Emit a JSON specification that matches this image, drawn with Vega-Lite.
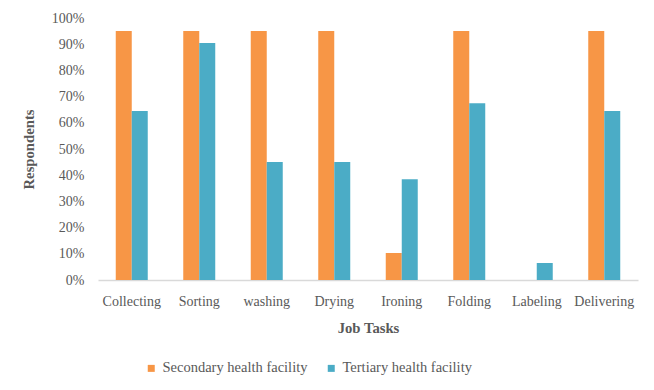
{
  "$schema": "https://vega.github.io/schema/vega-lite/v6.json",
  "width": 540,
  "height": 262,
  "autosize": {"type": "none"},
  "padding": {"left": 98, "top": 18, "right": 16, "bottom": 110},
  "background": "white",
  "config": {
    "view": {"stroke": null},
    "font": "Liberation Serif",
    "axis": {"labelFont": "Liberation Serif", "titleFont": "Liberation Serif", "labelColor": "#595959", "titleColor": "#595959", "labelFontSize": 14, "titleFontSize": 14.7, "grid": false, "ticks": false, "labelOverlap": false},
    "legend": {"labelFont": "Liberation Serif"}
  },
  "data": {
    "values": [
      {"task": "Collecting", "facility": "Secondary health facility", "value": 0.95},
      {"task": "Collecting", "facility": "Tertiary health facility", "value": 0.645},
      {"task": "Sorting", "facility": "Secondary health facility", "value": 0.95},
      {"task": "Sorting", "facility": "Tertiary health facility", "value": 0.905},
      {"task": "washing", "facility": "Secondary health facility", "value": 0.95},
      {"task": "washing", "facility": "Tertiary health facility", "value": 0.45},
      {"task": "Drying", "facility": "Secondary health facility", "value": 0.95},
      {"task": "Drying", "facility": "Tertiary health facility", "value": 0.45},
      {"task": "Ironing", "facility": "Secondary health facility", "value": 0.103},
      {"task": "Ironing", "facility": "Tertiary health facility", "value": 0.385},
      {"task": "Folding", "facility": "Secondary health facility", "value": 0.95},
      {"task": "Folding", "facility": "Tertiary health facility", "value": 0.675},
      {"task": "Labeling", "facility": "Secondary health facility", "value": 0},
      {"task": "Labeling", "facility": "Tertiary health facility", "value": 0.065},
      {"task": "Delivering", "facility": "Secondary health facility", "value": 0.95},
      {"task": "Delivering", "facility": "Tertiary health facility", "value": 0.645}
    ]
  },
  "mark": {"type": "bar"},
  "encoding": {
    "x": {
      "field": "task", "type": "nominal", "sort": null,
      "scale": {"paddingInner": 0.526, "paddingOuter": 0.263},
      "axis": {"title": "Job Tasks", "titleFontWeight": "bold", "labelAngle": 0, "labelPadding": 14, "titlePadding": 12, "domainColor": "#d9d9d9", "domainWidth": 1.3}
    },
    "xOffset": {"field": "facility", "type": "nominal", "scale": {"paddingInner": 0, "paddingOuter": 0}},
    "y": {
      "field": "value", "type": "quantitative",
      "scale": {"domain": [0, 1]},
      "axis": {"title": "Respondents", "titleFontWeight": "bold", "format": ".0%", "values": [0,0.1,0.2,0.3,0.4,0.5,0.6,0.7,0.8,0.9,1], "domain": false, "labelPadding": 14, "titleX": -62, "titleY": 131}
    },
    "color": {
      "field": "facility", "type": "nominal",
      "scale": {"range": ["#F79646", "#4BACC6"]},
      "legend": {"title": null, "orient": "none", "legendX": 46, "legendY": 343, "direction": "horizontal", "symbolType": "square", "symbolSize": 49, "symbolStrokeWidth": 0, "labelFont": "Liberation Serif", "labelFontSize": 14.5, "labelColor": "#595959", "labelOffset": 4, "columnPadding": 16}
    }
  }
}
